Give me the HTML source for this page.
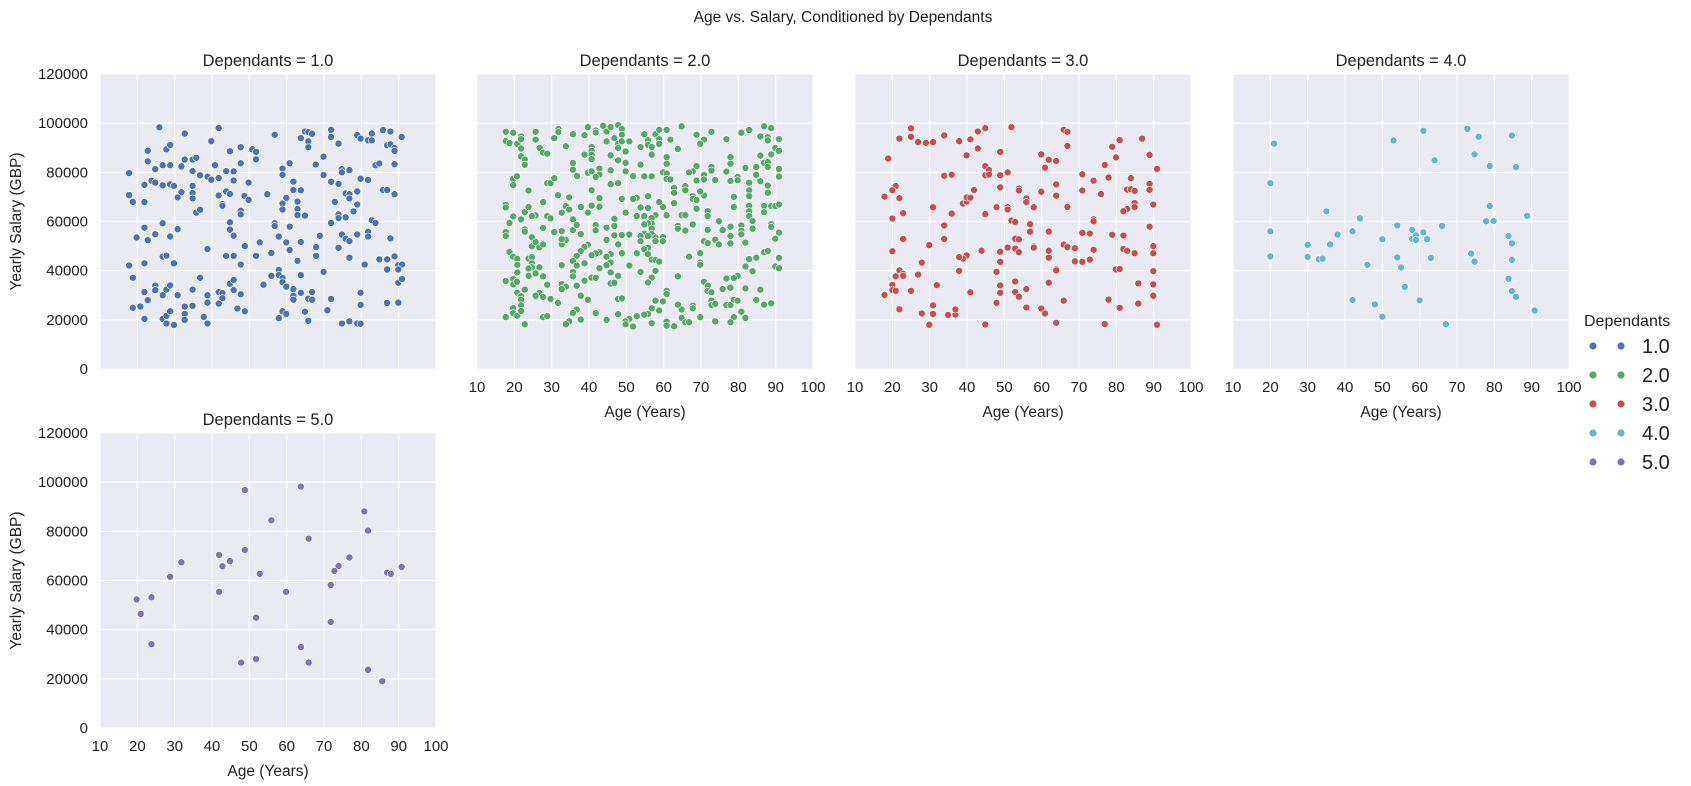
<!DOCTYPE html>
<html><head><meta charset="utf-8"><style>
html,body{margin:0;padding:0;background:#fff;}
svg{display:block;font-family:"Liberation Sans",Arial,sans-serif;}
</style></head><body>
<svg id="chart" width="1691" height="786" viewBox="0 0 1691 786" xmlns="http://www.w3.org/2000/svg">
<text x="843" y="22" font-size="15.5" text-anchor="middle" fill="#222">Age vs. Salary, Conditioned by Dependants</text>
<g id="panels"></g>
<g>
<text x="1584" y="326" font-size="16" fill="#222">Dependants</text>
<g id="legend-items"></g>
</g>
</svg>
<script>
// Values (salary in thousands of GBP)
const ages1 = [25.9,32.7,41.8,39.8,22.8,27.8,28.8,22.8,24.8,26.8,28.8,31.8,32.7,34.8,35.8,34.8,36.8,38.8,39.8,41.8,40.8,44.8,47.7,50.8,51.8,51.8,47.7,43.8,45.8,45.8,49.8,17.8,17.8,18.8,21.9,21.9,23.8,24.8,26.8,28.8,29.8,31.8,30.8,34.8,34.8,34.8,35.8,36.8,41.8,43.8,44.8,42.8,42.8,48.7,49.8,47.7,47.7,44.8,44.8,45.8,54.8,56.8,58.9,58.9,60.8,61.8,63.8,61.8,59.9,58.9,58.9,62.9,62.9,62.9,64.9,63.8,64.9,65.8,66.8,65.8,65.8,67.8,69.9,71.9,71.9,73.9,69.9,71.9,73.9,74.8,74.8,76.8,78.9,79.8,81.8,82.8,82.8,85.8,87.8,86.9,87.8,88.9,88.9,90.8,83.8,84.8,79.8,81.8,88.9,85.8,86.9,88.9,72.9,75.8,76.8,76.8,78.9,78.9,73.9,73.9,75.8,77.9,71.9,82.8,83.8,74.8,75.8,76.8,78.9,81.8,81.8,87.8,26.8,21.9,19.8,22.8,24.8,28.8,30.8,38.8,26.8,27.8,29.8,21.9,17.8,18.8,43.8,45.8,47.7,48.8,51.8,52.8,55.9,56.8,56.8,57.9,59.9,60.8,60.8,62.9,63.8,67.9,67.9,68.9,73.9,76.8,84.8,86.9,88.9,80.9,86.9,89.9,90.9,89.9,89.9,90.9,86.9,89.9,79.8,79.8,69.9,71.9,70.9,74.8,76.8,78.9,79.8,36.8,24.8,24.8,21.9,22.8,26.8,27.8,28.8,30.8,34.8,20.8,18.8,21.9,26.8,27.8,27.8,29.8,28.8,32.7,34.8,32.7,32.7,37.8,38.8,38.8,38.8,41.8,42.8,42.8,41.8,44.8,45.8,45.8,47.7,46.8,48.8,53.8,55.9,57.9,57.9,58.9,58.9,59.9,61.8,63.8,63.8,61.8,61.8,66.8,65.8,66.8,58.9,59.9,57.9,64.9,65.8];
const salaries1 = [98.3,95.8,98.0,92.7,88.8,89.4,91.1,84.5,81.3,82.9,82.9,82.4,85.2,85.2,85.9,80.5,78.8,78.2,77.0,77.7,82.9,88.6,90.2,89.4,88.3,85.3,83.7,80.5,80.4,76.7,75.8,79.7,70.7,68.0,74.9,67.9,76.6,75.8,74.7,75.1,74.5,71.9,69.8,74.5,71.6,69.4,63.6,64.8,70.6,72.2,71.2,67.1,66.4,70.4,68.8,64.4,62.9,59.7,56.7,54.2,71.1,95.3,81.5,79.0,83.7,76.2,72.7,72.8,69.6,67.3,64.9,68.1,65.1,62.6,62.4,93.9,96.6,96.4,95.7,92.6,90.2,83.2,86.4,97.3,94.4,91.7,78.9,76.2,75.3,81.3,80.0,80.9,95.2,93.7,93.0,93.0,95.8,97.2,96.6,91.0,91.4,89.9,88.7,94.4,82.9,83.6,77.4,76.9,83.3,72.8,72.8,71.1,68.0,71.4,71.1,69.4,72.2,66.9,62.9,61.4,61.7,64.1,59.4,60.5,59.4,54.7,53.0,52.0,54.7,55.8,53.9,53.1,59.3,57.5,53.5,52.4,54.8,53.9,56.9,48.8,45.7,46.1,43.0,43.0,42.1,37.1,46.0,46.0,42.5,50.0,46.0,51.5,47.2,59.3,58.2,53.9,51.5,57.9,48.4,44.0,51.7,49.6,46.0,54.2,49.3,45.3,44.6,44.6,45.8,42.5,40.5,42.2,42.5,40.5,35.1,36.6,26.9,27.0,31.0,26.1,39.5,28.5,23.9,18.5,19.4,18.5,18.4,37.1,33.9,32.1,31.3,28.0,30.0,32.3,34.0,30.0,32.3,25.4,24.9,20.4,20.4,21.6,18.5,17.9,23.5,25.4,25.7,22.4,20.0,21.2,18.5,30.0,27.0,31.3,30.9,28.8,26.6,34.7,36.2,32.1,30.4,24.6,23.5,34.3,37.9,40.3,38.2,37.0,35.3,33.5,32.5,38.2,31.0,29.8,28.2,31.3,28.6,28.2,23.5,22.4,20.7,23.3,19.6];

const ages2 = [17.7,19.7,17.7,18.7,20.8,21.8,21.8,21.8,21.8,22.8,22.8,19.7,20.7,19.7,23.8,17.7,17.7,19.7,18.7,21.8,22.8,23.8,22.8,22.8,17.7,17.7,24.7,24.7,25.7,26.7,18.7,19.7,20.8,23.8,24.7,24.7,24.7,20.8,20.8,17.7,19.7,19.7,20.7,20.8,21.8,21.8,22.8,21.8,19.7,19.7,20.8,21.8,17.7,22.8,25.7,25.7,26.7,27.7,27.7,26.7,27.7,27.7,28.8,29.7,27.7,25.7,24.7,25.7,25.7,26.8,27.7,28.8,28.8,29.7,30.7,31.8,31.8,30.7,33.8,35.7,38.8,39.7,41.8,41.8,43.8,44.7,45.8,47.8,48.8,48.8,46.8,44.7,47.8,47.8,48.8,50.8,49.8,45.8,47.8,49.8,40.7,40.7,40.7,38.8,40.7,35.7,35.7,36.8,39.7,40.7,42.8,42.8,41.8,45.8,49.8,45.8,47.8,51.8,53.8,54.8,55.8,55.8,53.8,56.8,57.8,58.8,58.8,58.8,56.8,60.8,61.8,63.8,64.8,60.8,60.8,59.8,60.8,60.8,61.8,54.8,56.8,68.8,70.8,69.8,72.8,76.8,80.8,82.9,86.9,88.8,85.9,87.9,87.9,90.9,89.9,90.9,88.8,85.9,86.9,87.9,87.9,90.9,90.9,84.8,81.9,84.8,85.9,87.9,87.9,77.9,77.9,76.8,72.8,72.8,70.8,68.8,67.8,66.8,68.8,70.8,73.8,77.9,79.8,79.8,82.9,82.9,82.9,82.9,82.9,82.9,83.8,86.9,86.9,88.8,89.9,90.9,78.8,78.8,74.8,71.8,71.8,68.8,67.8,67.8,68.8,70.8,69.8,65.8,65.8,62.8,62.8,62.8,64.8,65.8,67.8,63.8,63.8,65.8,59.8,58.8,57.8,60.8,55.8,55.8,53.8,52.8,51.8,54.8,52.8,56.8,56.8,55.8,54.8,56.8,56.8,54.8,53.8,50.8,48.8,53.8,55.8,57.8,57.8,59.8,59.8,55.8,54.8,52.8,55.8,56.8,57.8,58.8,49.8,48.8,46.8,46.8,46.8,44.7,47.8,48.8,45.8,44.7,45.8,44.7,45.8,42.8,42.8,41.8,40.7,39.7,38.8,37.8,36.7,35.7,36.7,38.8,35.7,35.7,36.7,38.8,40.7,41.8,32.7,33.8,32.7,32.7,30.7,32.7,35.7,37.8,36.7,35.7,33.8,34.7,34.7,31.7,32.7,37.8,39.7,40.7,40.7,42.8,42.8,41.8,41.8,44.7,50.8,53.8,57.8,56.8,55.8,45.8,46.8,47.8,60.8,60.8,63.8,69.8,69.8,69.8,66.8,70.8,71.8,71.8,73.8,75.8,77.9,77.9,77.9,74.8,80.8,80.8,80.8,81.9,83.8,88.8,88.8,90.9,89.9,86.9,87.9,84.8,82.9,81.9,83.8,90.9,89.9,90.9,79.8,78.8,76.8,77.9,75.8,70.8,71.8,71.8,72.8,72.8,72.8,73.8,76.8,77.9,78.8,79.8,81.9,85.9,84.8,86.9,88.8,80.8,78.8,81.9,77.9,73.8,69.8,67.8,67.8,64.8,63.8,64.8,65.8,66.8,62.8,60.8,60.8,57.8,59.8,58.8,56.8,55.8,54.8,56.8,52.8,50.8,49.8,49.8,51.8,44.7,47.8,47.8,48.8,39.7,37.8,37.8,41.8,34.7,33.8,36.7,35.7,31.7,29.7,27.7,28.8,32.7,33.8,32.7,28.8,25.7,23.8,23.8];
const salaries2 = [96.5,96.1,92.7,91.9,91.6,94.6,93.5,89.7,86.5,85.2,83.1,77.3,78.4,74.8,72.6,66.8,65.7,62.1,59.4,60.9,63.8,65.9,56.8,55.9,55.7,54.1,53.6,49.9,51.6,49.5,47.6,45.7,44.8,44.9,45.5,43.0,41.4,42.4,39.3,35.8,36.6,34.4,35.5,31.0,29.6,28.2,32.3,25.9,24.8,22.7,21.7,23.6,21.1,18.2,38.9,29.4,30.9,29.3,37.7,41.4,50.7,57.4,62.2,61.3,67.9,62.5,62.2,96.5,93.3,89.9,88.0,87.6,75.6,75.6,77.6,97.6,96.4,93.9,90.6,95.5,95.1,98.4,97.0,96.2,98.9,96.6,98.4,99.2,97.6,95.3,93.9,92.6,91.6,89.9,92.6,92.6,88.5,86.9,84.9,83.9,90.3,88.8,87.2,87.2,85.4,83.8,81.1,78.5,79.8,80.4,81.5,79.1,78.1,80.8,80.4,75.2,75.6,78.5,83.1,95.5,93.0,91.2,90.3,90.3,95.5,97.3,93.5,91.6,87.2,97.3,93.3,89.5,98.7,86.2,83.5,80.0,79.5,77.3,77.1,78.4,78.4,95.3,93.3,91.6,96.5,93.5,96.1,97.2,98.7,98.0,94.6,94.3,93.0,93.5,89.9,88.8,87.3,86.8,83.8,84.1,82.2,81.4,78.3,82.2,81.8,79.0,76.4,74.6,71.7,86.2,83.5,80.3,82.2,80.7,78.9,82.5,80.4,80.0,76.7,77.1,76.9,76.5,78.1,76.8,75.8,72.7,70.3,66.3,64.2,62.2,60.2,66.3,63.8,66.3,66.3,66.9,70.0,65.9,60.1,64.2,62.2,65.2,70.3,69.2,68.7,70.6,72.2,74.4,72.7,73.7,71.7,67.5,62.6,62.6,58.8,58.2,57.1,56.3,65.9,67.9,62.6,62.5,70.3,65.5,65.7,69.6,69.2,62.2,62.2,61.4,59.2,59.2,58.8,57.1,54.9,55.1,54.1,54.7,54.5,52.0,54.1,53.4,52.0,53.7,52.0,49.3,48.7,47.1,46.7,44.5,44.4,43.7,63.6,69.2,61.1,58.2,54.4,52.5,50.7,47.1,46.7,45.7,43.3,42.2,39.3,41.0,47.5,47.0,46.3,50.5,49.7,48.0,46.0,43.9,42.1,43.0,39.5,37.7,33.9,35.9,37.2,37.1,42.2,52.5,50.7,52.8,55.7,56.1,56.5,54.9,58.6,60.9,66.3,64.9,69.8,70.7,63.6,65.9,63.6,66.5,72.7,69.5,66.0,58.6,56.4,57.5,42.1,39.5,39.9,37.2,35.2,34.8,35.1,37.9,31.8,30.5,37.7,47.1,43.3,42.4,45.7,52.0,51.2,56.6,52.6,56.5,57.9,54.1,51.1,50.7,58.4,56.3,54.8,51.4,57.1,58.9,57.8,55.5,53.0,47.5,48.0,45.3,44.7,41.7,39.8,45.2,41.7,41.0,37.9,37.0,36.8,33.1,32.5,35.5,33.9,31.7,31.2,27.8,26.0,26.5,26.0,26.0,28.2,27.8,32.8,32.3,28.1,26.2,26.7,23.3,21.1,20.8,19.0,19.4,21.1,25.8,24.7,24.2,26.2,20.8,19.0,19.0,17.4,19.3,17.7,27.8,27.5,23.8,24.7,22.4,22.1,18.6,21.5,20.4,19.4,18.2,17.3,20.0,22.3,28.5,28.7,28.2,29.8,20.1,22.7,19.4,18.2,24.2,22.8,26.9,28.5,21.1,21.5,34.5,33.5,32.5,34.3,29.8,40.9,37.9];

const ages3 = [18.9,21.9,25.0,25.0,26.9,29.0,30.9,33.9,37.9,40.9,42.9,44.9,51.9,39.9,42.9,44.9,45.9,44.9,45.9,48.9,48.9,50.9,33.9,35.9,65.9,66.9,66.9,59.9,61.9,63.9,60.9,80.9,78.9,86.9,79.9,88.9,76.9,90.9,70.9,77.9,83.9,73.9,88.9,88.9,82.9,83.9,84.9,70.9,75.9,63.9,63.9,59.9,84.9,84.9,82.9,81.9,89.9,66.9,73.9,73.9,88.9,20.9,20.0,17.9,21.9,22.9,20.0,30.9,35.9,33.9,33.9,29.9,22.9,20.0,38.9,39.9,39.9,40.9,41.9,48.9,44.9,47.9,50.9,50.9,53.9,53.9,55.9,55.9,57.9,51.9,52.9,56.9,56.9,61.9,70.9,72.9,78.9,81.9,52.9,53.9,50.9,52.9,53.9,57.9,57.9,61.9,61.9,65.9,66.9,68.9,73.9,68.9,70.9,72.9,81.9,82.9,84.9,89.9,89.9,89.9,79.9,80.9,63.9,63.9,43.9,48.9,48.9,47.9,39.9,38.9,37.9,37.9,27.9,26.9,21.9,22.9,22.9,20.9,20.0,20.0,20.9,17.9,25.0,31.9,40.9,48.9,48.9,52.9,52.9,53.9,55.9,61.9,47.9,65.9,77.9,85.9,89.9,89.9,85.9,80.9,55.9,59.9,60.9,21.9,30.9,27.9,30.9,34.9,36.9,36.9,29.9,44.9,63.9,76.9,90.9];
const salaries3 = [85.6,93.7,97.9,94.5,92.3,92.0,92.3,95.0,92.7,93.4,96.6,98.0,98.4,86.9,89.7,82.5,80.9,78.8,79.1,88.3,78.8,80.0,78.6,79.0,97.3,96.5,90.7,87.3,85.1,84.6,81.9,93.1,90.4,93.7,86.1,87.1,83.0,81.4,79.2,77.9,77.6,76.6,75.3,72.9,73.0,73.1,72.5,72.6,71.2,75.1,70.5,72.1,67.5,65.9,65.1,64.2,66.9,65.9,60.9,60.1,57.9,74.4,72.7,70.1,69.5,63.4,61.2,65.8,63.2,58.4,52.9,50.4,52.9,47.9,67.3,68.1,69.8,69.7,72.8,73.9,63.0,65.8,65.8,64.9,73.4,72.6,69.4,67.9,65.8,60.4,59.8,58.9,55.9,55.9,55.4,55.1,54.6,54.3,53.0,52.7,49.4,49.0,47.5,49.9,49.4,48.1,45.3,50.6,49.6,49.1,48.5,43.8,43.6,44.5,48.8,48.1,47.1,50.0,47.1,39.8,40.5,40.7,40.6,40.1,48.1,47.7,43.6,39.5,46.2,44.9,45.5,39.9,43.3,38.4,40.1,38.7,37.9,37.7,34.2,32.1,31.8,30.1,31.8,34.1,31.2,34.0,31.0,35.6,31.3,29.4,32.5,35.1,26.9,27.8,28.2,34.8,34.4,29.8,26.6,24.9,25.0,24.6,22.6,24.3,25.9,22.6,22.4,22.0,22.1,24.2,18.0,18.1,18.8,18.3,18.0];

const ages4 = [21.0,20,20,20,35,44,38,42,36,30,30,33,34,46,42,48,50,50,53,54,54,55,56,58,58,59,59,61,61,62,60,64,63,66,67,72.8,75.8,84.7,74.7,78.8,85.8,78.8,88.8,77.8,79.8,83.8,84.7,73.8,74.7,84.7,83.8,84.7,85.8,90.8];
const salaries4 = [91.7,75.6,56.0,45.8,64.1,61.3,54.7,56.0,50.7,50.5,45.6,44.6,44.9,42.4,28.1,26.3,21.3,52.8,93.0,58.4,45.4,41.3,33.4,56.6,53.0,54.4,52.5,96.9,55.6,52.8,27.9,84.9,45.2,58.2,18.2,97.7,94.5,95.0,87.3,82.6,82.1,66.3,62.3,60.1,60.2,54.1,51.1,47.0,43.7,44.4,36.7,31.7,29.4,23.8];

const ages5 = [48.8,63.8,55.9,80.8,81.8,65.9,48.8,41.9,44.8,42.8,31.8,28.8,52.8,76.8,73.9,72.8,86.9,87.9,90.8,71.8,41.9,59.8,19.8,23.8,20.9,51.8,71.8,23.8,63.8,51.8,47.8,65.9,81.8,85.6];
const salaries5 = [96.8,98.2,84.5,88.1,80.3,77.0,72.4,70.4,67.9,65.8,67.4,61.5,62.7,69.4,65.9,63.9,63.2,62.7,65.5,58.2,55.4,55.4,52.3,53.2,46.4,44.9,43.1,34.1,32.9,28.0,26.6,26.6,23.7,19.0];

const xTicks = [10,20,30,40,50,60,70,80,90,100];
const yTicks = [0,20000,40000,60000,80000,100000,120000];
const groupLabels = ["1.0","2.0","3.0","4.0","5.0"];
const colors = ["#4C72B0","#55A868","#C44E52","#64B5CD","#8172B2"];

const NS = "http://www.w3.org/2000/svg";
const W = 336, H = 295;
const layout = [
  {x:100, y:74, xl:false, yl:true},
  {x:477, y:74, xl:true, yl:false},
  {x:855, y:74, xl:true, yl:false},
  {x:1233, y:74, xl:true, yl:false},
  {x:100, y:433, xl:true, yl:true}
];
const series = [[ages1,salaries1],[ages2,salaries2],[ages3,salaries3],[ages4,salaries4],[ages5,salaries5]];
const root = document.getElementById("panels");

function mk(tag, attrs, parent){
  const e = document.createElementNS(NS, tag);
  for (const k in attrs) e.setAttribute(k, attrs[k]);
  parent.appendChild(e);
  return e;
}

layout.forEach((p, i) => {
  const xs = v => p.x + (v - 10) / 90 * W;
  const ys = v => p.y + H - v / 120000 * H;
  const g = mk("g", {}, root);
  
  
  const bg = mk("rect", {x:p.x, y:p.y, width:W, height:H, fill:"#EAEAF2"}, g);
  
  
  xTicks.forEach(t => {
    const l = mk("line", {x1:xs(t), x2:xs(t), y1:p.y, y2:p.y+H, stroke:"#fff", "stroke-width":1}, g);
    
    
    if (p.xl) {
      const tx = mk("text", {x:xs(t), y:p.y+H+23, "font-size":15, "text-anchor":"middle", fill:"#222"}, g);
      tx.textContent = t;
      
      
    }
  });
  yTicks.forEach(t => {
    const l = mk("line", {x1:p.x, x2:p.x+W, y1:ys(t), y2:ys(t), stroke:"#fff", "stroke-width":1}, g);
    
    
    if (p.yl) {
      const tx = mk("text", {x:88, y:ys(t)+5, "font-size":15, "text-anchor":"end", fill:"#222"}, g);
      tx.textContent = t;
      
      
    }
  });
  const tt = mk("text", {x:p.x+W/2, y:p.y-8, "font-size":16.5, "text-anchor":"middle", fill:"#222"}, g);
  tt.textContent = "Dependants = " + groupLabels[i];
  
  
  if (p.xl) {
    const xt = mk("text", {x:p.x+W/2, y:p.y+H+48, "font-size":15.5, "text-anchor":"middle", fill:"#222"}, g);
    xt.textContent = "Age (Years)";
    
    
  }
  if (p.yl) {
    const cy = p.y + H/2;
    const yt = mk("text", {x:21, y:cy, "font-size":15.5, "text-anchor":"middle", fill:"#222", transform:"rotate(-90 21 "+cy+")"}, g);
    yt.textContent = "Yearly Salary (GBP)";
    
    
  }
  const [ax, sy] = series[i];
  ax.forEach((a, j) => {
    const c = mk("circle", {cx:xs(a), cy:ys(sy[j]*1000), r:3.5, fill:colors[i], stroke:"#fff", "stroke-width":0.6}, g);
    
    
  });
});

const li = document.getElementById("legend-items");
groupLabels.forEach((lab, i) => {
  const cy = 346 + i * 29;
  const g = mk("g", {}, li);
  
  
  mk("circle", {cx:1593, cy:cy, r:3.6, fill:colors[i]}, g);
  mk("circle", {cx:1621, cy:cy, r:3.6, fill:colors[i]}, g);
  const t = mk("text", {x:1642, y:cy+7, "font-size":20, fill:"#222"}, g);
  t.textContent = lab;
});
</script>
</body></html>
